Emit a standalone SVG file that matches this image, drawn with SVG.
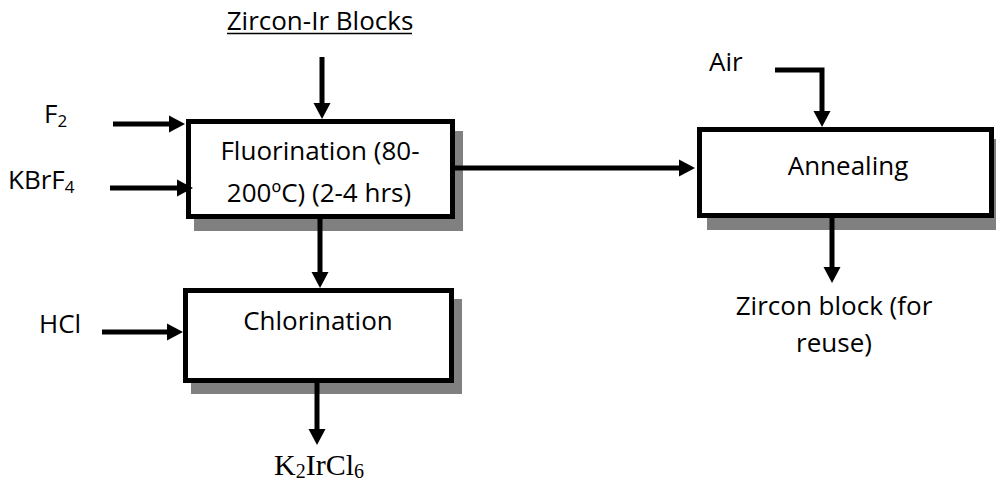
<svg xmlns="http://www.w3.org/2000/svg" width="996" height="487" viewBox="0 0 996 487">
<style>
  .box { fill: #ffffff; stroke: #000000; stroke-width: 5; }
  .shadow { fill: #808080; stroke: none; }
  .lbl { font-family: "Open Sans", "Liberation Sans", sans-serif; font-size: 26px; fill: #000000; }
  .sub { font-size: 17px; }
  .conn { fill: none; stroke: #000000; stroke-width: 5; stroke-linejoin: miter; }
  .serif { font-family: "Liberation Serif", "Times New Roman", serif; font-size: 30px; fill: #000000; }
</style>
<defs>
  <marker id="ah" markerUnits="userSpaceOnUse" markerWidth="18" markerHeight="18" refX="0" refY="9" orient="auto" viewBox="0 0 18 18">
    <path d="M0,0.5 L16,9 L0,17.5 z" fill="#000000"/>
  </marker>
</defs>
<rect width="996" height="487" fill="#ffffff"/>

<g id="zircon-ir-blocks">
  <text class="lbl" x="320" y="30" text-anchor="middle">Zircon-Ir Blocks</text>
  <line x1="227" y1="33.5" x2="412" y2="33.5" stroke="#000000" stroke-width="1.6"/>
</g>

<g id="f2-label">
  <text class="lbl" x="44" y="123">F<tspan class="sub" dy="4">2</tspan></text>
</g>
<g id="kbrf4-label">
  <text class="lbl" x="8" y="189">KBrF<tspan class="sub" dy="4">4</tspan></text>
</g>
<g id="hcl-label">
  <text class="lbl" x="39" y="333">HCl</text>
</g>
<g id="air-label">
  <text class="lbl" x="709" y="71">Air</text>
</g>

<g id="fluorination">
  <rect class="shadow" x="194" y="131" width="269" height="100"/>
  <rect class="box" x="188.5" y="121.5" width="264" height="95"/>
  <text class="lbl" x="320" y="160" text-anchor="middle">Fluorination (80-</text>
  <text class="lbl" x="319" y="202" text-anchor="middle">200ºC) (2-4 hrs)</text>
</g>

<g id="chlorination">
  <rect class="shadow" x="191" y="299" width="271" height="95"/>
  <rect class="box" x="185.5" y="290.5" width="266" height="90"/>
  <text class="lbl" x="318" y="330" text-anchor="middle">Chlorination</text>
</g>

<g id="annealing">
  <rect class="shadow" x="707" y="139" width="289" height="91"/>
  <rect class="box" x="699.5" y="129.5" width="292" height="86"/>
  <text class="lbl" x="848" y="175" text-anchor="middle">Annealing</text>
</g>

<g id="zircon-block-output">
  <text class="lbl" x="834" y="315" text-anchor="middle">Zircon block (for</text>
  <text class="lbl" x="834" y="352" text-anchor="middle">reuse)</text>
</g>

<g id="k2ircl6-output">
  <text class="serif" x="274" y="475">K<tspan font-size="20" dy="3">2</tspan><tspan dy="-3">IrCl</tspan><tspan font-size="20" dy="3">6</tspan></text>
</g>

<g id="connectors">
  <line class="conn" x1="322" y1="57" x2="322" y2="103" marker-end="url(#ah)"/>
  <line class="conn" x1="113" y1="124" x2="169" y2="124" marker-end="url(#ah)"/>
  <line class="conn" x1="110" y1="188" x2="177" y2="188" marker-end="url(#ah)"/>
  <line class="conn" x1="455" y1="168" x2="679" y2="168" marker-end="url(#ah)"/>
  <polyline class="conn" points="775,70 822,70 822,111" marker-end="url(#ah)"/>
  <line class="conn" x1="832" y1="218" x2="832" y2="267" marker-end="url(#ah)"/>
  <line class="conn" x1="320" y1="219" x2="320" y2="272" marker-end="url(#ah)"/>
  <line class="conn" x1="102" y1="332" x2="167" y2="332" marker-end="url(#ah)"/>
  <line class="conn" x1="317" y1="383" x2="317" y2="429" marker-end="url(#ah)"/>
</g>
</svg>
